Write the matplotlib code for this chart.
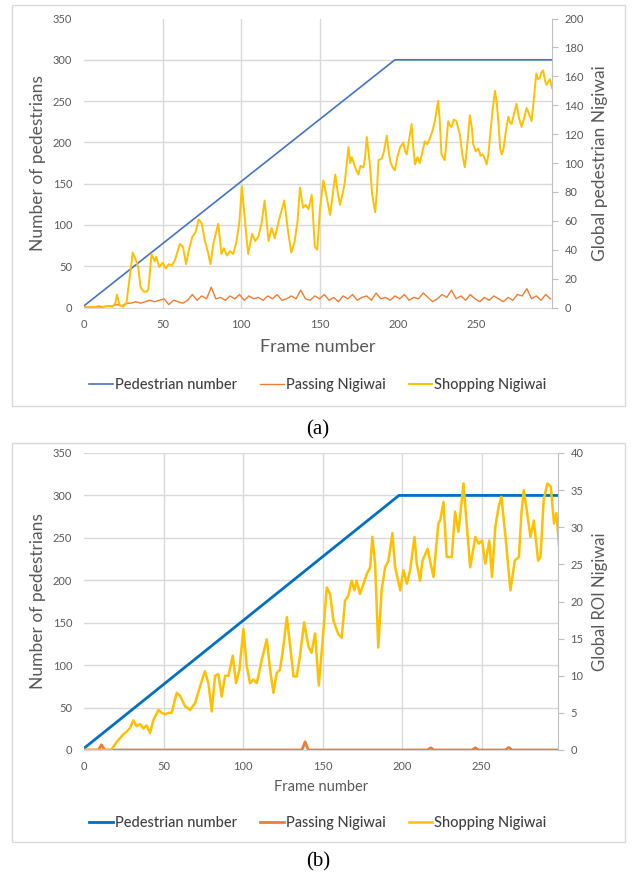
import matplotlib
matplotlib.use('Agg')
import matplotlib.pyplot as plt
import numpy as np
from matplotlib.patches import Rectangle

plt.rcParams['font.family'] = ['Lato', 'DejaVu Sans']

# ---------------- data ----------------
# panel (a)
ped_a_x = [0, 198, 298]
ped_a_y = [2, 300, 300]

passing_a_x = list(range(0, 298, 3))
passing_a_y = [0, 0.5, 0, 1, 0.5, 1, 1, 2, 1, 3, 3, 4, 3, 4, 5, 4, 5, 6, 2, 5,
               4, 3, 5, 9, 5, 8, 6, 14, 6, 7, 5, 8, 6, 9, 5, 8, 6, 7, 5, 8,
               6, 9, 5, 6, 8, 6, 12, 6, 5, 8, 6, 9, 5, 7, 4, 8, 6, 9, 5, 7,
               8, 5, 10, 6, 7, 5, 8, 6, 9, 5, 7, 6, 10, 7, 4, 6, 9, 7, 12, 6,
               8, 5, 9, 6, 4, 7, 5, 8, 6, 4, 7, 5, 9, 8, 13, 6, 8, 5, 9, 6]

shop_a_x = [0, 5, 10, 15, 18, 20, 21, 22.5, 25, 27, 29, 31, 33, 34.5, 36, 38, 40, 41, 43, 45,
            46, 48, 50, 52, 54, 56, 58, 61, 63, 65, 67, 69, 71, 73, 75, 77, 79, 80.5, 82.5, 85.5,
            87.5, 89, 91, 93, 95, 97, 99, 100.5, 102.5, 104.5, 107, 109, 111, 113, 115, 117.5, 119.5, 121.5, 124, 127.5,
            130, 132, 134, 136, 137.5, 139.5, 141, 143, 145, 147, 148.5, 150.3, 152.4, 154.6, 156.7, 158, 160, 161.5, 163, 164.5,
            166, 168.4, 169.5, 170.5, 172.6, 174.7, 176, 178, 179, 180, 181, 182, 183.5, 185.4, 186.5, 187.5, 189.6, 191, 192.8, 194,
            195, 196.5, 198, 199.5, 201.3, 203.4, 204.5, 205.5, 207, 208.6, 209.7, 210.8, 212.3, 213.9, 215.5, 217, 218.6, 220.2, 221.8, 223.4,
            225.5, 226.5, 227.6, 228.6, 229.7, 231, 231.9, 233, 234, 235.5, 237.2, 238.2, 239.3, 241, 242.5, 244, 245.7, 247, 247.8, 249.5,
            251, 252.5, 254, 255.5, 256.4, 257.5, 258.5, 260, 261.7, 262.8, 263.8, 265, 266, 267, 268, 269, 270.2, 271.3, 272.3, 273.8,
            275.4, 277, 278.6, 280, 281.8, 283, 285, 286.5, 288, 289, 290.3, 291.4, 292.4, 293.5, 294.5, 295.5, 296.6, 298]
shop_a_y = [0, 0.5, 0, 1, 0.5, 3, 9, 2, 0.5, 3, 20, 38, 33, 28, 14, 11, 11, 13, 37, 32,
            35, 28, 31, 27, 30, 29, 33, 44, 42, 30, 41, 49, 52, 61, 58, 46, 38, 30, 45, 58,
            37, 41, 36, 39, 37, 45, 60, 84, 60, 37, 51, 46, 49, 58, 74, 46, 55, 48, 60, 74,
            52, 38, 45, 60, 83, 69, 71, 68, 78, 42, 40, 69, 88, 76, 64, 75, 92, 80, 71, 78,
            86, 111, 100, 104, 97, 92, 98, 97, 104, 118, 109, 99, 78, 66, 80, 102, 103, 108, 119, 108,
            101, 97, 95, 104, 111, 114, 108, 106, 116, 127, 110, 99, 104, 100, 108, 115, 113, 117, 122, 129,
            143, 130, 106, 104, 102, 118, 129, 126, 125, 130, 129, 124, 120, 105, 97, 112, 133, 124, 113, 108,
            110, 105, 106, 102, 99, 106, 118, 135, 150, 142, 129, 110, 106, 109, 117, 125, 132, 128, 127, 134,
            141, 131, 125, 130, 138, 135, 129, 145, 162, 158, 159, 163, 164, 157, 154, 156, 158, 152]

# panel (b)
ped_b_x = [0, 198, 298]
ped_b_y = [2, 300, 300]

passing_b_x = [0, 9, 11, 13, 137, 139, 141, 216, 218, 220, 244, 246, 248, 265, 267, 269, 298]
passing_b_y = [0, 0, 0.7, 0, 0, 1.1, 0, 0, 0.3, 0, 0, 0.3, 0, 0, 0.35, 0, 0]

shop_b_x = [0, 17, 18.4, 21, 24.7, 27, 29, 31, 33, 35.2, 37.3, 39.4, 41.5, 43.6, 46.8, 48.9, 51, 53, 55.1, 58.3,
            60.4, 63.5, 66.7, 69.8, 73, 76, 78.2, 80.3, 82.4, 84.5, 86.6, 88.7, 90.8, 93.5, 95.6, 97.7, 100.2, 102.3, 104.4, 106.5,
            108.6, 111.8, 114.9, 117, 119.1, 121.2, 123.2, 125.4, 127.5, 129.6, 131.7, 133.7, 135.8, 138.4, 141, 143, 145.3, 147.6, 150, 152.6,
            154.7, 156.8, 159.9, 162, 164.1, 166.2, 168.3, 170, 171.4, 173.5, 175.7, 177.8, 179.9, 181.3, 183, 185, 187.1, 189.3, 191.4, 193.9,
            195.6, 198.8, 200.8, 203, 205, 207.8, 209.2, 211.3, 212.8, 216, 219.7, 222.8, 224, 226, 228, 231.2, 233.3, 235.4, 238.6, 240.7,
            242.8, 246, 248.1, 250.2, 252.3, 254.8, 256.5, 258.6, 260.7, 262.4, 265, 268.1, 270.8, 273.4, 275, 276.5, 278.6, 280.7, 282.8, 285.5,
            287, 289, 291.3, 293.4, 295.5, 297, 298.6]
shop_b_y = [0, 0, 0.4, 1.2, 2.1, 2.5, 3.0, 4.0, 3.2, 3.5, 2.9, 3.3, 2.3, 4.0, 5.4, 5.0, 4.8, 5.0, 5.0, 7.7,
            7.3, 5.9, 5.4, 6.3, 8.6, 10.6, 9.0, 5.2, 10.0, 10.2, 7.2, 10.0, 10.0, 12.7, 9.0, 10.8, 16.3, 11.3, 9.0, 9.5,
            9.0, 12.2, 14.9, 10.8, 7.7, 10.4, 10.8, 14.0, 17.9, 14.0, 9.9, 9.9, 12.7, 17.2, 14.0, 13.1, 15.7, 8.7, 14.7, 21.9,
            21.0, 17.4, 15.6, 15.1, 20.1, 20.8, 22.8, 21.5, 22.8, 21.0, 22.4, 23.7, 24.6, 28.7, 25.1, 13.8, 21.5, 24.6, 25.5, 29.2,
            24.6, 21.5, 24.2, 22.4, 24.2, 28.7, 25.1, 22.8, 25.5, 27.1, 23.3, 30.5, 31.0, 33.4, 26.0, 26.0, 32.1, 29.4, 35.9, 30.1,
            24.6, 28.7, 27.8, 28.2, 25.1, 28.2, 23.3, 30.1, 32.8, 34.1, 28.7, 21.5, 25.5, 26.0, 31.9, 35.0, 31.9, 28.7, 30.9, 25.5,
            26.0, 33.7, 35.9, 35.5, 30.5, 31.9, 27.6]

x_ticks = [0, 50, 100, 150, 200, 250]
left_ticks = [0, 50, 100, 150, 200, 250, 300, 350]
right_ticks_a = [0, 20, 40, 60, 80, 100, 120, 140, 160, 180, 200]
right_ticks_b = [0, 5, 10, 15, 20, 25, 30, 35, 40]

series_names = ['Pedestrian number', 'Passing Nigiwai', 'Shopping Nigiwai']

# ---------------- layout ----------------
W, H = 633, 882
fig = plt.figure(figsize=(W / 100, H / 100), dpi=100)


def rect(x0, x1, ytop, ybot):
    return [x0 / W, 1 - ybot / H, (x1 - x0) / W, (ybot - ytop) / H]


GRID = '#D9D9D9'
TXT = '#595959'


def panel(box, axrect, ped, passing, shop, rticks, rlabel, vgrid, colors, lws,
          xlabel_size, ylabel_size, rlabel_size, xlab_y, leg_y, caption, cap_y, top_grid):
    bx0, bx1, by0, by1 = box
    fig.patches.append(Rectangle((bx0 / W, 1 - by1 / H), (bx1 - bx0) / W, (by1 - by0) / H,
                                 transform=fig.transFigure, fill=False, edgecolor='#D9D9D9', lw=1.0))
    ax = fig.add_axes(rect(*axrect))
    ax2 = ax.twinx()
    l1, = ax.plot(ped[0], ped[1], color=colors[0], lw=lws[0], label=series_names[0])
    l2, = ax2.plot(passing[0], passing[1], color=colors[1], lw=lws[1], label=series_names[1])
    l3, = ax2.plot(shop[0], shop[1], color=colors[2], lw=lws[2], label=series_names[2])
    ax.set_xlim(0, 298)
    ax.set_ylim(0, 350)
    ax2.set_ylim(0, rticks[-1])
    ax.set_xticks(x_ticks)
    ax.set_yticks(left_ticks)
    ax2.set_yticks(rticks)
    for s in ['left', 'top', 'right']:
        ax.spines[s].set_visible(False)
    ax.spines['bottom'].set_color(GRID)
    for s in ['left', 'top', 'bottom']:
        ax2.spines[s].set_visible(False)
    ax2.spines['right'].set_color('#BFBFBF')
    ax.tick_params(axis='y', length=0, pad=8.5, labelsize=8, labelcolor=TXT)
    ax.tick_params(axis='x', length=0, pad=8, labelsize=8, labelcolor=TXT)
    ax2.tick_params(axis='y', length=4, color='#BFBFBF', pad=5, labelsize=8, labelcolor=TXT)
    ax.grid(True, axis='both', color=GRID, lw=1.0)
    ax.set_axisbelow(True)
    for gl, v in zip(ax.get_xgridlines(), x_ticks):
        gl.set_visible(v in vgrid)
    for gl, v in zip(ax.get_ygridlines(), left_ticks):
        if v == 0 or (v == 350 and not top_grid):
            gl.set_visible(False)
    ax.set_ylabel('Number of pedestrians', fontsize=ylabel_size, color=TXT, va='center')
    ax.yaxis.set_label_coords((38 - axrect[0]) / (axrect[1] - axrect[0]), 0.5)
    ax2.set_ylabel(rlabel, fontsize=rlabel_size, color=TXT, va='center', rotation=90)
    ax2.yaxis.set_label_coords((600 - axrect[0]) / (axrect[1] - axrect[0]), 0.5)
    ax.set_xlabel('Frame number', fontsize=xlabel_size, color=TXT, va='center')
    ax.xaxis.set_label_coords(0.5, -(xlab_y - axrect[3]) / (axrect[3] - axrect[2]))
    leg = fig.legend([l1, l2, l3], series_names, loc='center', bbox_to_anchor=(318 / W, 1 - leg_y / H),
                     ncol=3, frameon=False, fontsize=10.5, handlelength=1.6, handletextpad=0.15,
                     columnspacing=1.6, labelcolor='#404040')
    for t in leg.get_texts():
        t.set_fontweight('medium')
    fig.text(318 / W, 1 - cap_y / H, caption, ha='center', va='center', fontsize=15,
             family=['Liberation Serif', 'DejaVu Serif'], color='black')


panel((12, 625, 5, 406), (84, 552, 18.5, 307.5),
      (ped_a_x, ped_a_y), (passing_a_x, passing_a_y), (shop_a_x, shop_a_y),
      right_ticks_a, 'Global pedestrian Nigiwai', [50, 100, 150],
      ['#4472C4', '#ED7D31', '#FFC000'], [1.2, 1.0, 1.4],
      13, 12.5, 12.5, 347, 385, '(a)', 430, False)

panel((12, 625, 443, 842), (84, 558, 453, 750),
      (ped_b_x, ped_b_y), (passing_b_x, passing_b_y), (shop_b_x, shop_b_y),
      right_ticks_b, 'Global ROI Nigiwai', [50, 100, 150, 200, 250],
      ['#0070C0', '#ED7D31', '#FFC000'], [2.0, 2.0, 1.8],
      10.5, 12.5, 12, 787, 823, '(b)', 862, True)

fig.savefig('out.png', dpi=100, facecolor='white')
